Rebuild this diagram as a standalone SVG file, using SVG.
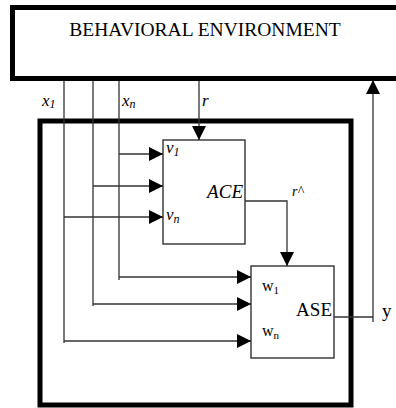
<svg xmlns="http://www.w3.org/2000/svg" width="396" height="408" viewBox="0 0 396 408">
<style>
.thick{fill:#fff;stroke:#000;stroke-width:5}
.box{fill:#fff;stroke:#222;stroke-width:1.3}
.ln{fill:none;stroke:#333;stroke-width:1.3}
.t{font-family:"Liberation Serif","Times New Roman",serif;fill:#000}
.i{font-style:italic}
</style>
<defs>
<marker id="ah" markerUnits="userSpaceOnUse" markerWidth="14" markerHeight="14" refX="14" refY="7" orient="auto">
<path d="M0,0 L14,7 L0,14 z" fill="#000"/>
</marker>
</defs>
<rect width="396" height="408" fill="#fff"/>
<g id="environment">
<rect class="thick" x="12.5" y="7.5" width="400" height="71"/>
<text class="t" x="205" y="36" font-size="19.5" text-anchor="middle">BEHAVIORAL ENVIRONMENT</text>
</g>
<g id="controller">
<rect class="thick" x="40" y="121" width="311" height="284"/>
</g>
<g id="ace">
<rect class="box" x="163" y="140" width="82" height="104"/>
<text class="t i" x="166" y="153" font-size="17">v<tspan font-size="12" dy="3">1</tspan></text>
<text class="t i" x="243" y="198" font-size="19" text-anchor="end">ACE</text>
<text class="t i" x="166" y="220" font-size="17">v<tspan font-size="12" dy="3">n</tspan></text>
</g>
<g id="ase">
<rect class="box" x="251" y="266" width="83" height="92"/>
<text class="t" x="262" y="291" font-size="16">w<tspan font-size="11" dy="3">1</tspan></text>
<text class="t" x="332" y="316" font-size="19" text-anchor="end">ASE</text>
<text class="t" x="262" y="336" font-size="16">w<tspan font-size="11" dy="3">n</tspan></text>
</g>
<g id="connectors">
<path class="ln" d="M64,81 V343"/>
<path class="ln" d="M93,81 V306"/>
<path class="ln" d="M119,81 V280"/>
<path class="ln" d="M119,154 H163" marker-end="url(#ah)"/>
<path class="ln" d="M93,186 H163" marker-end="url(#ah)"/>
<path class="ln" d="M64,217 H163" marker-end="url(#ah)"/>
<path class="ln" d="M119,277 H251" marker-end="url(#ah)"/>
<path class="ln" d="M93,304 H251" marker-end="url(#ah)"/>
<path class="ln" d="M64,341 H251" marker-end="url(#ah)"/>
<path class="ln" d="M199,81 V140" marker-end="url(#ah)"/>
<path class="ln" d="M245,201 H287 V266" marker-end="url(#ah)"/>
<path class="ln" d="M334,317 H373"/>
<path class="ln" d="M373,322 V80" marker-end="url(#ah)"/>
<text class="t i" x="42" y="106" font-size="17">x<tspan font-size="12" dy="2">1</tspan></text>
<text class="t i" x="122" y="106" font-size="17">x<tspan font-size="12" dy="2">n</tspan></text>
<text class="t i" x="202" y="106" font-size="17">r</text>
<text class="t i" x="292" y="196" font-size="14">r^</text>
<text class="t" x="382" y="317" font-size="19">y</text>
</g>
</svg>
